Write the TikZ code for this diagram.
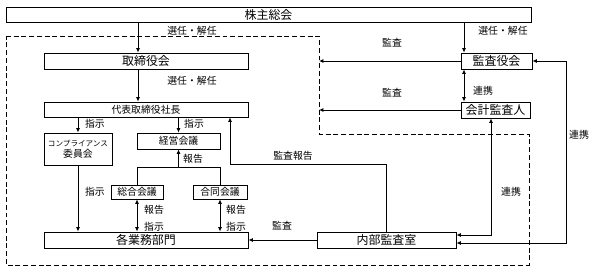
\documentclass[tikz,border=0pt]{standalone}
\usepackage{fontspec}
\setmainfont{Noto Sans CJK JP}
\usetikzlibrary{arrows.meta}

\begin{document}
\begin{tikzpicture}[x=0.025cm, y=-0.025cm, line width=0.6pt,
  font=\fontsize{7}{8}\selectfont,
  box/.style={draw, align=center, inner sep=0pt, minimum height=0.4cm},
  bigbox/.style={box, font=\fontsize{8.5}{9}\selectfont},
  lbl/.style={inner sep=0pt},
  arr/.style={-{Latex[length=1.1mm,width=1mm]}},
  arrs/.style={{Latex[length=1.1mm,width=1mm]}-{Latex[length=1.1mm,width=1mm]}},
  frame/.style={dashed, dash pattern=on 3.5pt off 2pt}]
\useasboundingbox[fill=white] (0,0) rectangle (600,274);
% frame of the company
\draw[frame] (6,36) -- (319,36) -- (319,134) -- (529,134) -- (529,265) -- (6,265) -- cycle;
\coordinate (fr) at (319,36);
% boxes
\node[bigbox, minimum width=13.125cm, minimum height=0.375cm] (soukai) at (268.5,14.5) {株主総会};
\node[bigbox, minimum width=5.1cm] (torishimari) at (146,61) {取締役会};
\node[box, minimum width=5.1cm, minimum height=0.375cm] (daihyo) at (146,109.5) {代表取締役社長};
\node[box, minimum width=1.7cm, minimum height=0.8cm] (comp) at (78,149) {{\fontsize{5.4}{6}\selectfont コンプライアンス}\\委員会};
\node[box, minimum width=2.075cm] (keiei) at (178.5,141) {経営会議};
\node[box, minimum width=1.3cm, minimum height=0.35cm] (sogo) at (137,192) {総合会議};
\node[box, minimum width=1.35cm, minimum height=0.35cm] (godo) at (220,192) {合同会議};
\node[bigbox, minimum width=5.1cm] (kakubu) at (146,240) {各業務部門};
\node[bigbox, minimum width=3.475cm] (naibu) at (386.5,240) {内部監査室};
\node[bigbox, minimum width=1.775cm] (kansayaku) at (496.5,61) {監査役会};
\node[bigbox, minimum width=1.725cm] (kaikei) at (495.5,110) {会計監査人};
% labels
\node[lbl] (l1) at (192,31) {選任・解任};
\node[lbl] (l2) at (503,31) {選任・解任};
\node[lbl] (l3) at (192,81) {選任・解任};
\node[lbl] (l4) at (95,124) {指示};
\node[lbl] (l5) at (194,124) {指示};
\node[lbl] (l6) at (193,159) {報告};
\node[lbl] (l7) at (293,156) {監査報告};
\node[lbl] (l8) at (95,192) {指示};
\node[lbl] (l9) at (154,210) {報告};
\node[lbl] (l10) at (154,227) {指示};
\node[lbl] (l11) at (236,210) {報告};
\node[lbl] (l12) at (236,227) {指示};
\node[lbl] (l13) at (282,226) {監査};
\node[lbl] (l14) at (392,43) {監査};
\node[lbl] (l15) at (392,93) {監査};
\node[lbl] (l16) at (483,91) {連携};
\node[lbl] (l17) at (579,135) {連携};
\node[lbl] (l18) at (511,192) {連携};
% connectors
\draw[arr] (soukai.south -| 138,0) -- (torishimari.north -| 138,0);
\draw[arr] (torishimari.south -| 138,0) -- (daihyo.north -| 138,0);
\draw[arr] (daihyo.south -| comp) -- (comp.north);
\draw[arr] (daihyo.south -| keiei) -- (keiei.north);
\draw[arr] (comp.south) -- (kakubu.north -| comp);
\draw (sogo.north) |- (220,167) -- (godo.north);
\draw[arr] (keiei.south |- 0,167) -- (keiei.south);
\draw[arrs] (sogo.south) -- (kakubu.north -| sogo);
\draw[arrs] (godo.south) -- (kakubu.north -| godo);
\draw[arr] (naibu.north) |- (230,164) -- (daihyo.south -| 230,0);
\draw[arr] (naibu.west) -- (kakubu.east);
\draw[arr] (soukai.south -| 464,0) -- (kansayaku.north -| 464,0);
\draw[arrs] (kansayaku.south -| 464,0) -- (kaikei.north -| 464,0);
\draw[arr] (kansayaku.west) -- (kansayaku.west -| fr);
\draw[arr] (kaikei.west) -- (kaikei.west -| fr);
\draw[arrs] (kaikei.south -| 491,0) |- (naibu.east |- 0,235);
\draw[arrs] (kansayaku.east) -| (566,243) -- (naibu.east |- 0,243);
\end{tikzpicture}
\end{document}
